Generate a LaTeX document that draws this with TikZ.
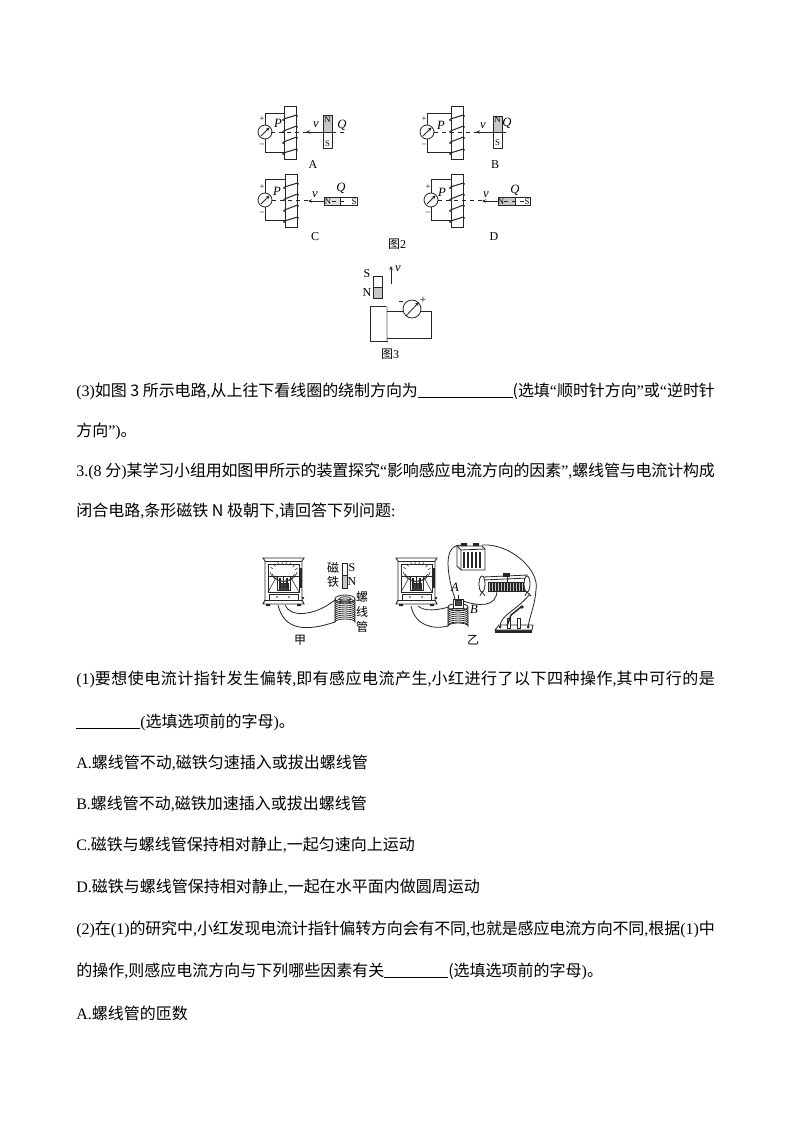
\documentclass[tikz,border=0pt]{standalone}
\usepackage{fontspec}
\setmainfont{Liberation Serif}
\newfontfamily\cjk{Noto Sans CJK SC}
\usetikzlibrary{arrows.meta}
\newXeTeXintercharclass\cjkclass
\newcount\cc
\cc="4E00 \loop \XeTeXcharclass\cc=\cjkclass \advance\cc 1 \ifnum\cc<"A000 \repeat
\cc="3000 \loop \XeTeXcharclass\cc=\cjkclass \advance\cc 1 \ifnum\cc<"3040 \repeat
\XeTeXinterchartokenstate=1
\XeTeXinterchartoks 0 \cjkclass={\cjk}
\XeTeXinterchartoks 4095 \cjkclass={\cjk}
\XeTeXinterchartoks \cjkclass 0={\rmfamily}
\XeTeXinterchartoks \cjkclass \cjkclass={\hskip 0pt plus 1pt minus 1pt}
\newcommand{\blank}[1]{\rule[-1.2pt]{#1pt}{0.5pt}}
\newcommand{\fullline}[1]{\hbox to 479pt{#1}}
\definecolor{mg}{gray}{0.78}
\tikzset{
 x=0.75pt,y=-0.75pt,
 line/.style={line width=0.6pt,black!85},
 thin2/.style={line width=0.4pt,black!85},
 body/.style={anchor=west,inner sep=0pt,font=\fontsize{12pt}{14pt}\selectfont},
 cap2/.style={inner sep=0pt,font=\fontsize{9pt}{10pt}\selectfont},
 small/.style={inner sep=0pt,font=\fontsize{6.5pt}{7pt}\selectfont},
 ital/.style={inner sep=0pt,font=\fontsize{9.5pt}{10pt}\selectfont\itshape},
 arr/.style={-{Stealth[length=3pt,width=2.6pt]}},
}
% solenoid left x, top y, galvo x, wire-top offset
\newcommand{\circuit}[4]{%
 \begin{scope}[line]
 \draw (#1,#2) rectangle ++(12,53);
 \draw (#3,#2+7+#4) -| (#1,#2+7+#4);
 \draw (#3,#2+46) -- (#1,#2+46);
 \draw (#3,#2+7+#4) -- (#3,#2+46);
 \draw[fill=white] (#3,#2+26) circle (7);
 \draw[arr] (#3-4.2,#2+30.2) -- (#3+4.6,#2+21.4);
 \foreach \a/\b in {9/13,20/25,31/36,43/47}{
  \draw[line width=0.75pt] (#1-0.5,#2+\b) -- (#1+12.5,#2+\a);
  \draw (#1-0.5,#2+\b) arc (270:90:0.9);
  \draw (#1+12.5,#2+\a) arc (-90:90:0.9);
 }
 \end{scope}
 \node[small] at (#3-3,#2+13) {+};
 \node[small] at (#3-3,#2+39) {--};
}
\newcommand{\galvo}[2]{%
 \begin{scope}[shift={(#1,#2)},thin2]
 \draw[line width=0.7pt] (0,0) -- (41,0) -- (39,3) -- (39,42) -- (41,46) -- (0,46) -- (2,42) -- (2,3) -- cycle;
 \draw (2,3) -- (39,3) (2,42) -- (39,42);
 \draw (5,6) rectangle (36,34);
 \draw (7,14) arc (160:20:14.5);
 \draw (9,16) arc (155:25:12.5);
 \foreach \t in {35,50,...,145}{\draw ({20.5+14*cos(\t)},{20-14*sin(\t)+0}) -- ({20.5+17*cos(\t)},{20-17*sin(\t)});}
 \draw (5,18) -- (36,18);
 \draw (5,34) -- (14,18) (36,34) -- (27,18);
 \draw (14,18) rectangle (27,32);
 \draw[fill=black!75] (16,25) rectangle (25,32);
 \draw[line width=0.9pt] (17,20) -- (17,30) (20.5,19) -- (20.5,30) (24,20) -- (24,30);
 \draw (5,34) -- (36,34);
 \draw (6,36) rectangle (35,42);
 \fill (14,39) circle (0.9) (26,39) circle (0.9);
 \draw[line width=1pt] (38,10) -- (38,30);
 \fill (40,40) circle (1.3);
 \fill (3,46) rectangle (7,48) (34,46) rectangle (38,48);
 \end{scope}
}
\begin{document}
\begin{tikzpicture}
\useasboundingbox (0,0) rectangle (794,1123);
\fill[white] (0,0) rectangle (794,1123);
% A
\circuit{284}{106}{265}{0}
\begin{scope}[line]
\fill[mg] (323,115) rectangle (332,132);
\draw (323,115) rectangle (332,148);
\draw (323,132) -- (332,132);
\draw[dashed] (271,132) -- (308,132);
\draw[arr] (327,132) -- (306,132);
\draw[dashed] (332,132) -- (345,132);
\end{scope}
\node[small] (na) at (327.5,120) {N};
\node[small] (sa) at (327.5,144) {S};
\node[ital] (pa) at (278,123) {P};
\node[ital] (va) at (316,125) {v};
\node[ital] (qa) at (342,125) {Q};
\node[cap2] (la) at (313,165) {A};
% B
\circuit{451}{106}{427}{0}
\begin{scope}[line]
\fill[mg] (493,116) rectangle (502,132);
\draw (493,116) rectangle (502,148);
\draw (493,132) -- (502,132);
\draw[dashed] (434,132) -- (478,132);
\draw[arr] (497,132) -- (476,132);
\draw[dashed] (502,132) -- (508,132);
\end{scope}
\node[small] (nb) at (497.5,120) {N};
\node[small] (sb) at (497.5,143) {S};
\node[ital] (pb) at (441,125) {P};
\node[ital] (vb) at (483,126) {v};
\node[ital] (qb) at (507,123) {Q};
\node[cap2] (lb) at (495,165) {B};
% C
\circuit{285}{174}{265}{-2}
\begin{scope}[line]
\fill[black!12] (324,197) rectangle (340,205);
\draw (324,197) rectangle (357,205);
\draw (340,197) -- (340,205);
\draw[dashed] (272,200.5) -- (310,200.5);
\draw[arr] (324,201) -- (308,201);
\draw[dashed] (332,201) -- (348,201);
\end{scope}
\node[small] (nc) at (328,201.5) {N};
\node[small] (sc) at (354,201.5) {S};
\node[ital] (pc) at (277,191) {P};
\node[ital] (vc) at (315,195) {v};
\node[ital] (qc) at (341,188) {Q};
\node[cap2] (lc) at (315,237) {C};
% D
\circuit{451}{174}{431}{-2}
\begin{scope}[line]
\fill[mg] (498,197) rectangle (515,205);
\draw (498,197) rectangle (530,205);
\draw (515,197) -- (515,205);
\draw[dashed] (438,200.5) -- (486,200.5);
\draw[arr] (498,201) -- (482,201);
\draw[dashed] (504,201) -- (525,201);
\end{scope}
\node[small] (nd) at (501,201.5) {N};
\node[small] (sd) at (527,201.5) {S};
\node[ital] (pd) at (442,192) {P};
\node[ital] (vd) at (486,195) {v};
\node[ital] (qd) at (515,190) {Q};
\node[cap2] (ld) at (494,237) {D};
\node[cap2] (f2) at (397,244) {图2};
% Fig 3
\begin{scope}[line]
\fill[mg] (373,288) rectangle (382,298);
\draw (373,276) rectangle (382,298);
\draw (373,287) -- (382,287);
\draw[arr] (391,284) -- (391,266);
\draw (370,306) rectangle (387,341);
\draw[mg,line width=1pt] (387,306) -- (387,341);
\draw (387,311) -- (403,311);
\draw (421,311) -- (431,311) -- (431,338) -- (387,338);
\draw (412,309) circle (9);
\draw[arr] (406,316) -- (419,302);
\draw (398.5,301) -- (403,301);
\end{scope}
\node[cap2] (s3) at (367,274) {S};
\node[cap2] (n3) at (367,293) {N};
\node[ital] (v3) at (398,269) {v};
\node[small,font=\fontsize{8.5pt}{9pt}\selectfont] (p3) at (423,300) {+};
\node[cap2] (f3) at (390,354) {图3};
% text
\node[body] (t1) at (76,391) {\fullline{(3)如图 3 所示电路,从上往下看线圈的绕制方向为\blank{71}(选填“顺时针方向”或“逆时针}};
\node[body] (t2) at (76,431) {方向”)。};
\node[body] (t3) at (76,471) {\fullline{3.(8 分)某学习小组用如图甲所示的装置探究“影响感应电流方向的因素”,螺线管与电流计构成}};
\node[body] (t4) at (76,511) {闭合电路,条形磁铁 N 极朝下,请回答下列问题:};
\node[body] (t5) at (76,679) {\fullline{(1)要想使电流计指针发生偏转,即有感应电流产生,小红进行了以下四种操作,其中可行的是}};
\node[body] (t6) at (76,722) {\blank{48}(选填选项前的字母)。};
\node[body] (t7) at (76,763) {A.螺线管不动,磁铁匀速插入或拔出螺线管};
\node[body] (t8) at (76,804) {B.螺线管不动,磁铁加速插入或拔出螺线管};
\node[body] (t9) at (76,845) {C.磁铁与螺线管保持相对静止,一起匀速向上运动};
\node[body] (t10) at (76,887) {D.磁铁与螺线管保持相对静止,一起在水平面内做圆周运动};
\node[body] (t11) at (76,929) {\fullline{(2)在(1)的研究中,小红发现电流计指针偏转方向会有不同,也就是感应电流方向不同,根据(1)中}};
\node[body] (t12) at (76,971) {的操作,则感应电流方向与下列哪些因素有关\blank{48}(选填选项前的字母)。};
\node[body] (t13) at (76,1013) {A.螺线管的匝数};
% 甲
\galvo{263}{558}
\begin{scope}[line]
\fill[mg] (342,576) rectangle (347,588);
\draw (342,563) rectangle (347,588);
\draw (342,575.5) -- (347,575.5);
\draw (335,599) -- (335,622) arc (180:360:10 and 3) -- (355,599);
\draw (345,599) ellipse (10 and 4);
\draw (345,599) ellipse (6 and 2.2);
\foreach \y in {602,604,...,620}{\draw (335,\y) arc (180:360:10 and 3);}
\draw (285,605) .. controls (290,618) and (315,616) .. (335,600);
\draw (278,605) .. controls (284,630) and (305,632) .. (335,622);
\end{scope}
\node[cap2] (sj) at (352,568) {S};
\node[cap2] (nj) at (352,582) {N};
\node[cap2,align=center,font=\fontsize{9pt}{11pt}\selectfont] (cj) at (333,575) {磁\\铁};
\node[cap2,align=center,font=\fontsize{9pt}{11.5pt}\selectfont] (lx) at (362,612) {螺\\线\\管};
\node[cap2] (jia) at (300,640) {甲};
% 乙
\galvo{396}{558}
\begin{scope}[line]
% coil
\draw (448,607) -- (448,626) arc (180:360:10 and 3) -- (468,607);
\draw (458,607) ellipse (10 and 3.5);
\foreach \y in {611,613,...,625}{\draw (448,\y) arc (180:360:10 and 3);}
\draw[fill=white] (453,599) rectangle (463,608);
\draw[fill=black!70] (455,600) rectangle (461,605);
\draw (458,600) -- (458,595);
% battery
\draw (457,546) -- (482,546) -- (485,549) -- (485,570) -- (461,570) -- (457,566) -- cycle;
\draw (457,546) -- (461,550) -- (485,549) (461,550) -- (461,570);
\foreach \x in {464,468,...,480}{\draw[line width=1.1pt] (\x,552) -- (\x,568);}
\fill (461,543) rectangle (467,546) (473,543) rectangle (479,546);
% rheostat
\draw (483,577) -- (528,575);
\draw (483,580) -- (528,578);
\draw[fill=black!25] (488,582) rectangle (526,591);
\foreach \x in {490,491.5,...,525}{\draw[line width=0.6pt] (\x,582) -- (\x,591);}
\draw[fill=white] (482,584) ellipse (3 and 8);
\draw[fill=white] (527,584) ellipse (3 and 8);
\draw (482,592) -- (480,596) (482,592) -- (485,596) (527,592) -- (525,596) (527,592) -- (531,596);
\fill (503,573) rectangle (510,577);
\draw (507,577) -- (507,582);
% switch
\fill (495,630) -- (532,630) -- (532,633) -- (495,633) -- cycle;
\draw[fill=white] (495,630) -- (499,625) -- (533,625) -- (532,630) -- cycle;
\fill (500,627) circle (1.5) (528,627) circle (1.5);
\draw[fill=white] (507,618) rectangle (510,628);
\draw[fill=white] (517,618) rectangle (520,628);
\draw[line width=1.1pt] (507,626) -- (511,615) -- (521,607);
\fill (522,607) circle (1.8);
% wires
\draw (461,545) .. controls (450,545) and (446,555) .. (449,575) .. controls (451,588) and (454,595) .. (455,599);
\draw (482,545) .. controls (510,543) and (540,570) .. (536,590) .. controls (535,605) and (530,615) .. (528,627);
\draw (497,590) .. controls (497,608) and (478,606) .. (463,601);
\draw (500,627) .. controls (500,615) and (515,612) .. (530,594);
\draw (418,606) .. controls (425,612) and (438,610) .. (449,607);
\draw (411,606) .. controls (415,625) and (432,630) .. (448,626);
\end{scope}
\node[ital] (ay) at (455,587) {A};
\node[ital] (by) at (474,609) {B};
\node[cap2] (yi) at (473,640) {乙};
\end{tikzpicture}
\end{document}
